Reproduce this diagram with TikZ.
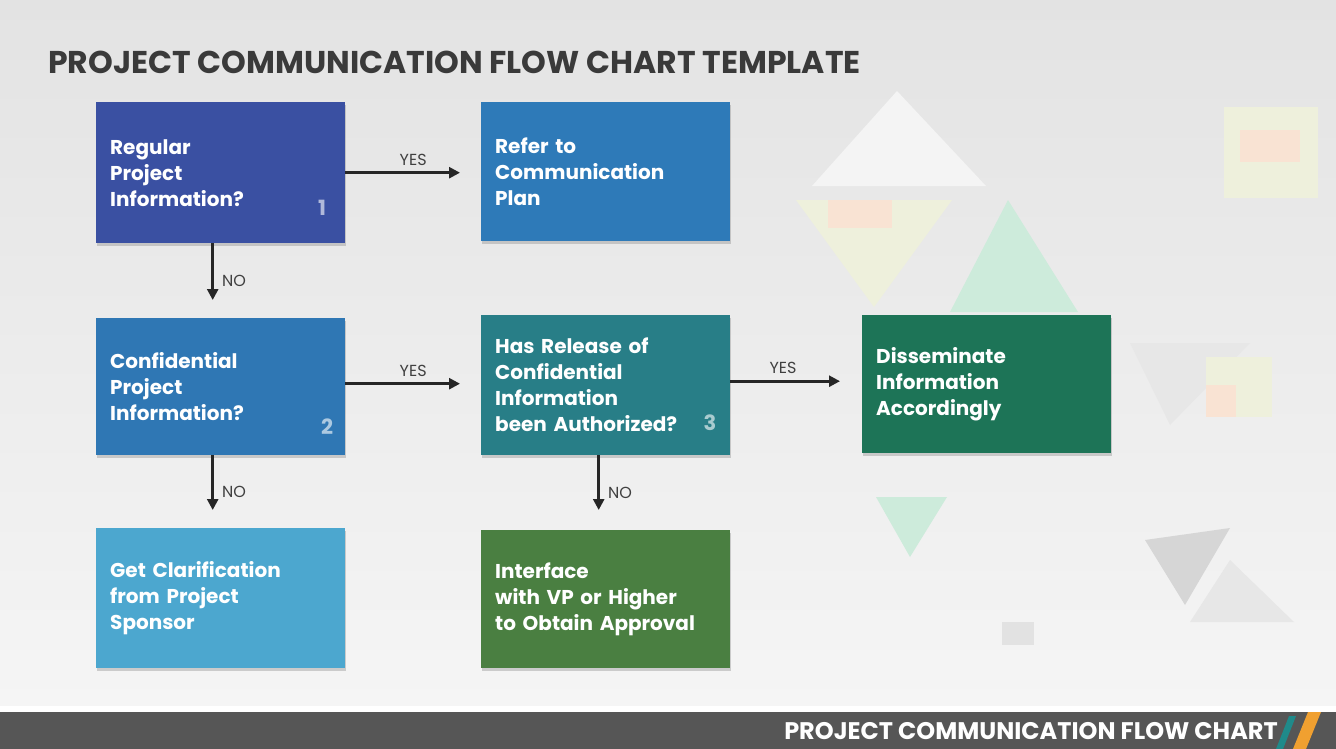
\documentclass[tikz,border=0pt]{standalone}
\usepackage{fontspec}
\setmainfont{Poppins}
\usetikzlibrary{arrows.meta,shadows}
\definecolor{bgtop}{HTML}{E3E3E3}
\definecolor{bgbot}{HTML}{F5F5F5}
\definecolor{cA}{HTML}{3A50A2}
\definecolor{cB}{HTML}{2E7AB8}
\definecolor{cC}{HTML}{2F77B4}
\definecolor{cD}{HTML}{287E87}
\definecolor{cE}{HTML}{1D7457}
\definecolor{cF}{HTML}{4CA7CF}
\definecolor{cG}{HTML}{4A7F41}
\definecolor{titlec}{HTML}{3A3A3A}
\definecolor{barc}{HTML}{565656}
\definecolor{mint}{HTML}{CDEBDB}
\definecolor{peach}{HTML}{F9E3D3}
\definecolor{paley}{HTML}{EEF0DC}
\definecolor{pgray}{HTML}{D6D6D6}
\definecolor{tealst}{HTML}{1F8A8A}
\definecolor{orst}{HTML}{F0A030}
\tikzset{
  box/.style={anchor=north west, minimum width=249pt, minimum height=139pt,
    inner xsep=14pt, text width=221pt, align=left, text=white,
    font=\bfseries\fontsize{20}{26}\selectfont,
    drop shadow={opacity=0.35, shadow xshift=1pt, shadow yshift=-3pt}},
  arr/.style={line width=2.6pt, draw=black!85, -{Triangle[length=11pt,width=11pt]}},
  lbl/.style={font=\fontsize{16}{17}\selectfont, text=black!75, inner sep=2pt},
  numb/.style={font=\bfseries\fontsize{21}{21}\selectfont, inner sep=0pt},
  deco/.style={draw=none}
}
\begin{document}
\begin{tikzpicture}[x=1pt,y=-1pt]
\useasboundingbox (0,0) rectangle (1336,749);
% background
\shade[top color=bgtop, bottom color=bgbot] (0,0) rectangle (1336,708);
\fill[white] (0,706) rectangle (1336,712);
% decorative shapes
\fill[deco, white!60!bgtop] (897,91) -- (812,186) -- (986,186) -- cycle;
\fill[deco, paley] (796,200) -- (952,200) -- (874,307) -- cycle;
\fill[deco, peach] (828,200) rectangle (892,228);
\fill[deco, mint] (1008,200) -- (950,312) -- (1078,312) -- cycle;
\fill[deco, paley] (1224,107) rectangle (1318,198);
\fill[deco, peach] (1240,130) rectangle (1300,162);
\fill[deco, pgray!60] (1130,343) -- (1250,343) -- (1170,425) -- cycle;
\fill[deco, paley] (1206,357) rectangle (1272,417);
\fill[deco, peach] (1206,385) rectangle (1236,417);
\fill[deco, mint] (876,497) -- (947,497) -- (910,557) -- cycle;
\fill[deco, pgray] (1145,540) -- (1230,528) -- (1185,605) -- cycle;
\fill[deco, pgray!60] (1230,560) -- (1294,622) -- (1190,622) -- cycle;
\fill[deco, pgray!70] (1002,622) rectangle (1034,645);
% title
\node[anchor=west, font=\bfseries\fontsize{31.5}{34}\selectfont, text=titlec, inner sep=0pt] (title) at (48,62) {PROJECT COMMUNICATION FLOW CHART TEMPLATE};
% boxes
\node[box, fill=cA, minimum height=141pt] (A) at (96,102) {Regular\\Project\\Information?};
\node[box, fill=cB] (B) at (481,102) {Refer to\\Communication\\Plan};
\node[box, fill=cC, minimum height=137pt] (C) at (96,318) {Confidential\\Project\\Information?};
\node[box, fill=cD, minimum height=140pt] (D) at (481,315) {Has Release of\\Confidential\\Information\\been Authorized?};
\node[box, fill=cE, minimum height=138pt] (E) at (862,315) {Disseminate\\Information\\Accordingly};
\node[box, fill=cF, minimum height=140pt] (F) at (96,528) {Get Clarification\\from Project\\Sponsor};
\node[box, fill=cG, minimum height=138pt] (G) at (481,530) {Interface\\with VP or Higher\\to Obtain Approval};
% step numbers
\node[numb, text=cA!40!white] (n1) at (322,208) {1};
\node[numb, text=cC!40!white] (n2) at (327,427) {2};
\node[numb, text=cD!40!white] (n3) at (710,423) {3};
% connectors
\draw[arr, shorten >=21pt] (A.east) -- (A.east -| B.west) node[lbl, midway, above=4pt] (y1) {YES};
\draw[arr, shorten >=18pt] ([xshift=-8pt]A.south) -- ([xshift=-8pt]A.south |- C.north) node[lbl, midway, right=6pt] (n1l) {NO};
\draw[arr, shorten >=21pt] ([yshift=3pt]C.east) -- ([yshift=3pt]C.east -| D.west) node[lbl, midway, above=4pt] (y2) {YES};
\draw[arr, shorten >=18pt] ([xshift=-8pt]C.south) -- ([xshift=-8pt]C.south |- F.north) node[lbl, midway, right=6pt] (n2l) {NO};
\draw[arr, shorten >=22pt] ([yshift=4pt]D.east) -- ([yshift=4pt]D.east -| E.west) node[lbl, pos=0.4, above=4pt] (y3) {YES};
\draw[arr, shorten >=20pt] ([xshift=-7pt]D.south) -- ([xshift=-7pt]D.south |- G.north) node[lbl, midway, right=6pt] (n3l) {NO};
% footer bar
\fill[barc] (0,712) rectangle (1336,749);
\fill[tealst] (1276,749) -- (1283,749) -- (1296,716) -- (1289,716) -- cycle;
\fill[orst] (1293,749) -- (1306,749) -- (1321,712) -- (1308,712) -- cycle;
\node[anchor=east, font=\bfseries\fontsize{24}{25}\selectfont, text=white, inner sep=0pt] (foot) at (1278,731) {PROJECT COMMUNICATION FLOW CHART};
\end{tikzpicture}
\end{document}
